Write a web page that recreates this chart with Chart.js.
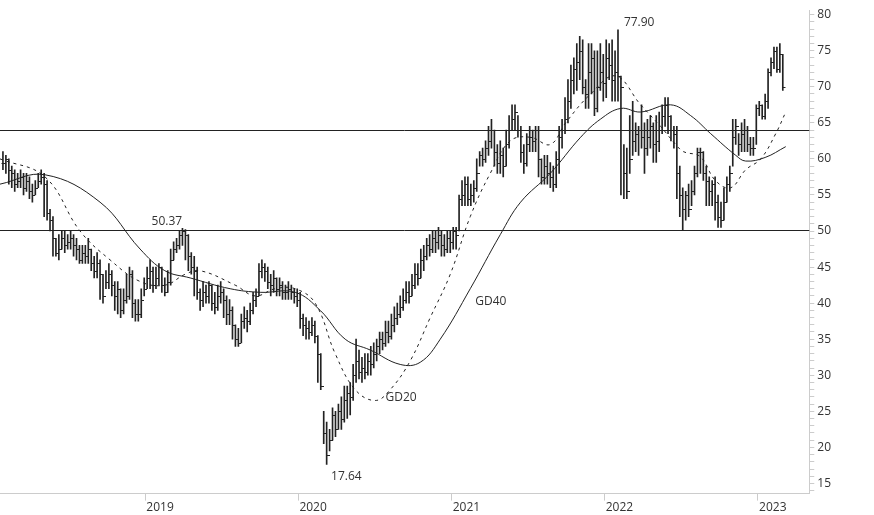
<!DOCTYPE html>
<html><head><meta charset="utf-8">
<script src="https://cdn.jsdelivr.net/npm/chart.js@4"></script>
<style>html,body{margin:0;padding:0;background:#fff}#w{width:874px;height:515px}</style>
</head><body><div id="w"><canvas id="c"></canvas></div>
<script>
const closes=[59.5,60,58.5,58,56.5,57, 57.5,56,57,55.5,55, 56,57,57.5,56.5,52.5, 51.5,49,47,47.5,49, 48,48.5,49,48,47.5, 46,47,46.5,47.5,45.5, 44.5,45.5,44,41,43, 44,42.5,41,42,39, 40.5,41,44,40,38.5, 38.5,40.5,42,43.5,44.5,42.5,
43.5,45,42.5,41.5,43, 46,47.5,48,49.5,50, 49.5,46.5,45,44.5,41.5, 40.5,41.5,41,42.5,40, 39.5,41,41.5,40.5,38.5, 39,37,35,34.5,37.5, 38,37.5,39,40.5,41, 44.5,45,44.5,43,42.5, 43.5,42,42.5,41.5,41.5, 42,41.5,41,40.5,38,37,36.5,
36,37,35.5,33,28.5, 22,19,21,24.5,22.5, 25,24,26.5,27.5,27, 30,32,30.5,31,30.5, 32,31.5,33,34,35, 34.5,36,35.5,37,38, 38.5,39.5,40.5,41.5,41, 42.5,44,43.5,46,46.5, 48,47.5,49,48.5,49.5, 48,47.5,49,48.5,50,49.5,54.5,
55,56.5,54.5,55,56, 58,60.5,60,61.5,62.5, 64,61,59.5,60.5,59, 62,64,65.5,66.5,64, 61,59.5,62,63,62.5, 64,60,57.5,59,58, 57.5,56.5,60,63,64, 65.5,68,71,72.5,73.5, 75,70,69,72,74, 67,70,72,70.5,74,73,71,
72,71.5,70,58,55.5, 60,62.5,63.5,64,63, 61.5,63,64.5,62,62.5, 64,66,67.5,66,64, 63.5,58,55,53,55, 53,55.5,58,61,61, 58,57,55.5,56.5,54, 52,51.5,54,56.5,58, 63,64.5,62,63.5,64, 62,61.5,61.5,67,67.5,66,68,
72,73.5,75,72.5,74.5,70];
const highs=[61,60.5,60,59,58.5,58, 58.5,58,58,57.5,56.5, 57,58,58.5,58,57, 53,52,49,49.5,50, 50,49.5,50,49.5,49, 48,48,48,49,47.5, 46.5,47,46,44,44.5, 45.5,44.5,43,43,42, 42,44,45,44.5,40.5, 40.5,42,43.5,45,46,45,
45,45.5,45,43.5,44.5, 47.5,48.5,49,50,50.37, 50.2,49.5,47,46.5,45, 42,43,42.5,43,42.5, 41.5,42.5,43,42,41, 40.5,39.5,37,36.5,38.5, 39.5,39,40,41.5,42, 45.5,46,45.5,45,44, 44.5,43.5,43.5,43,42.5, 43,42.5,42,42,41.5,38.5,38,
37.5,38,37.5,35.5,33, 25,23.5,22.5,25.5,25, 26,27,28.5,28.5,29, 31.5,35,33.5,32.5,33, 33,34,34.5,35,36, 36,37.5,37.5,38.5,39.5, 40,41,42,43,43, 44,45.5,45.5,47.5,48, 49,49.5,50,50,50.5, 50,49.5,50,50,50.5,50.5,55,
57,57.5,57.5,56.5,57, 60,61,61.5,62.5,64.5, 65.5,64,62,62.5,61.5, 64,66,67.5,67.5,66, 64.5,62,63.5,64.5,64, 64.5,64.5,60,60.5,60.5, 59.5,59,61,64.5,65.5, 68.5,71,73,74,76, 77,76.5,71,76,76, 75,75,76,74.5,76.5,76,76.5,
75,77.9,71.5,62,61.5, 66,68,65,64.5,67.5, 65,65.5,66,65,66, 66.5,67.5,68.5,68.5,66, 64.5,64.5,59,56,55.5, 56.5,57,59,61.5,61.5, 61,59,57.5,57,57.5, 55,54,56,57.5,59, 65.5,65.5,63.5,65,65.5, 64.5,63,63,67.5,68,67.5,69,
72.5,74,75.5,75.5,76,74.5];
const lows=[58.5,58,56.5,56,55.5,56, 56,55,55.5,54.5,54, 55,56,56.5,52,51.5, 50,46.5,46.5,46,47.5, 47,47.5,47.5,46.5,46, 45.5,45.5,45.5,45.5,44.5, 43.5,43.5,40.5,40,42, 42,41,39,38.5,38, 38.5,40,40.5,38,37.5, 37.5,38,41,42,42,41.5,
42,42.5,41.5,41,41.5, 42.5,46,47,47.5,48, 46,44.5,44,41,40.5, 39,39.5,40,40,39, 38.5,39,40,38,37, 37,35,34,34,34.5, 36.5,36,37,38.5,39.5, 41,43.5,43,42,41, 41.5,41,41,40.5,40.5, 40.5,40.5,40,39.5,36.5,35.5,35,
35,35.5,34.5,29,28, 20.5,17.64,19.5,21,21.5, 22.5,22.5,23.5,24,24.5, 26.5,29,29.5,29,29.5, 30,30,31,32,33, 33.5,34,34.5,35,36, 37,38,39,40,40, 41,42,42.5,43.5,44.5, 46,46.5,47,47,47.5, 46.5,46.5,47,47,47.5,47.5,50,
53.5,53.5,53.5,53.5,54, 55.5,59,59,59.5,60.5, 61.5,59,58,58,57.5, 59,61.5,64,64,63, 59.5,58,59,61,61, 61,57.5,56.5,56.5,56.5, 56,55.5,56,58,61.5, 63.5,65,67,69,69.5, 71,69,67,67,69, 66,66.5,69.5,68,68.5,71,68,
68,68,55,54.5,54.5, 58,60.5,61,60.5,61.5, 58,60.5,61.5,59.5,59.5, 61,63.5,64.5,63.5,62.5, 61.5,54.5,52,50.1,51.5, 52,53.5,55,57.5,58, 57,53.5,53.5,53.5,51.5, 50.5,50.5,51.5,54,55.5, 59,62,60.5,61,61, 61,60.5,60.5,62,66,65.5,65.5,
67,71.5,72.5,72,72,69.5];
const gd40Weeks=[-1,14.3,33,46.6,55,63.6,77.2,87.4,99.3,107.8,116.3,124.8,135,141.8,148.6,158.8,169,175.9,186,196.3,203,209.9,216.7,226.9,233.7,240.5,249,252.4,259,266];
const gd40Vals=[56.5,57.8,54,47.5,44.5,43.5,42,41.5,41.5,39,35,33.5,31.5,31.8,35,42,49.5,54,58,63,65.5,67,66.5,67.5,66,63.5,60.5,59.7,60.2,61.7];
const gd20Weeks=[-1,14.3,26.2,36.4,46.6,55.1,61.9,67,78.9,85.7,92.5,99.3,106.1,112.9,119.7,126.5,131.6,138.4,145.2,152,158.8,165.6,172.4,179.3,186,191.2,199.7,208.2,216.7,223.5,228.6,231.3,237,242.1,247.3,252.4,257.5,262.6,266];
const gd20Vals=[60,57.5,50,46,43,42.5,44,44.5,42.5,41,42,42,40,33,28,26.5,28,32,38,44,52,58,62.5,63,62,65,69,71.5,67.5,64.5,62,61,60.3,57,56,58.5,60,63.5,66.5];
const yearTicks=[48.3,100.3,152.4,204.4,256.5];
const yearLabels=['2019','2020','2021','2022','2023'];
const hLines=[64,50.2];
const notes=[{t:'50.37',x:50.5,y:50.37,dy:-7},{t:'77.90',x:211,y:77.9,dy:-7},{t:'17.64',x:111.5,y:17.64,dy:12},{t:'GD20',x:130,y:26.5,dy:-3},{t:'GD40',x:160.5,y:40.2,dy:0}];

const idx=closes.map((_,i)=>i);
const ranges=idx.map(i=>({x:i,y:[lows[i],highs[i]]}));
const plug={id:'ohlc',
 beforeDatasetsDraw(ch){const {ctx,chartArea:a,scales:{y}}=ch;ctx.save();ctx.strokeStyle='#222';ctx.lineWidth=1;
  hLines.forEach(v=>{const p=Math.round(y.getPixelForValue(v))+0.5;ctx.beginPath();ctx.moveTo(a.left,p);ctx.lineTo(a.right,p);ctx.stroke();});ctx.restore();},
 afterDatasetsDraw(ch){const {ctx,scales:{x,y}}=ch;ctx.save();ctx.strokeStyle='#222';ctx.lineWidth=1;
  idx.forEach(i=>{const px=Math.round(x.getPixelForValue(i));
   const o=i>0?closes[i-1]:closes[i];const po=Math.round(y.getPixelForValue(o))+0.5,pc=Math.round(y.getPixelForValue(closes[i]))+0.5;
   ctx.beginPath();ctx.moveTo(px-1.5,po);ctx.lineTo(px,po);
   ctx.moveTo(px,pc);ctx.lineTo(px+2.5,pc);ctx.stroke();});
  ctx.fillStyle='#333';ctx.font='12px "Open Sans"';ctx.textAlign='left';ctx.textBaseline='middle';
  notes.forEach(n=>ctx.fillText(n.t,x.getPixelForValue(n.x),y.getPixelForValue(n.y)+n.dy));
  ctx.restore();}};
new Chart(document.getElementById('c'),{
 data:{datasets:[
  {type:'bar',data:ranges,backgroundColor:'#222',borderWidth:0,barThickness:1,grouped:false},
  {type:'line',data:gd40Weeks.map((w,i)=>({x:w,y:gd40Vals[i]})),borderColor:'#222',borderWidth:1,pointRadius:0,tension:0.4,fill:false},
  {type:'line',data:gd20Weeks.map((w,i)=>({x:w,y:gd20Vals[i]})),borderColor:'#222',borderWidth:1,borderDash:[3,4],pointRadius:0,tension:0.4,fill:false}
 ]},
 options:{responsive:true,maintainAspectRatio:false,animation:false,
  layout:{padding:{left:0,right:40,top:0,bottom:0}},
  plugins:{legend:{display:false},tooltip:{enabled:false}},
  scales:{
   x:{type:'linear',min:-1,max:274,offset:false,
    afterBuildTicks(s){s.ticks=yearTicks.map(v=>({value:v}));},
    ticks:{autoSkip:false,callback:(v,i)=>yearLabels[i],color:'#333',font:{size:12,family:'Open Sans'},maxRotation:0,labelOffset:15,padding:0},
    grid:{offset:false,drawOnChartArea:false,tickLength:7,color:'#ccc'},border:{color:'#ccc'}},
   y:{position:'right',min:13.59,max:80.62,
    afterBuildTicks(s){const t=[];for(let v=14;v<=80;v++)t.push({value:v});s.ticks=t;},
    ticks:{autoSkip:false,callback:v=>v%5===0?String(v):'',color:'#333',font:{size:12,family:'Open Sans'},padding:3},
    grid:{drawOnChartArea:false,tickLength:5,color:'#ccc'},border:{color:'#ccc'}}
  }},
 plugins:[plug]});
</script></body></html>
